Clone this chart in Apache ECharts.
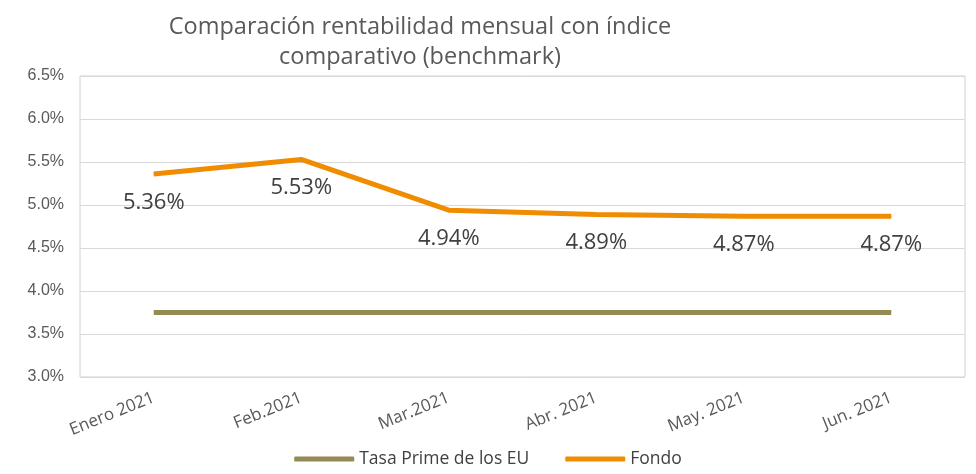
<!DOCTYPE html>
<html>
<head>
<meta charset="utf-8">
<script src="https://cdn.jsdelivr.net/npm/echarts@6/dist/echarts.min.js"></script>
<style>
  html, body { margin: 0; padding: 0; background: #fff; }
  #main { width: 976px; height: 474px; }
</style>
</head>
<body>
<div id="main"></div>
<script>
// datos
var categorias = ['Enero 2021', 'Feb.2021', 'Mar.2021', 'Abr. 2021', 'May. 2021', 'Jun. 2021'];
var tasaPrime = [3.75, 3.75, 3.75, 3.75, 3.75, 3.75];
var fondo = [5.36, 5.53, 4.94, 4.89, 4.87, 4.87];

var myChart = echarts.init(document.getElementById('main'));

myChart.setOption({
    animation: false,
    textStyle: { fontFamily: '"Open Sans", sans-serif' },
    title: {
        text: 'Comparación rentabilidad mensual con índice\ncomparativo (benchmark)',
        left: 415,
        top: 7,
        textAlign: 'center',
        textStyle: {
            color: '#595959',
            fontSize: 23.5,
            fontWeight: 'normal',
            lineHeight: 30,
            fontFamily: '"Open Sans", sans-serif'
        }
    },
    legend: {
        data: ['Tasa Prime de los EU', 'Fondo'],
        bottom: 1,
        left: 'center',
        itemWidth: 60,
        itemHeight: 5,
        itemGap: 36,
        icon: 'roundRect',
        textStyle: { color: '#404040', fontSize: 17.5, fontFamily: '"Open Sans", sans-serif' }
    },
    grid: {
        left: 80,
        right: 11,
        top: 76,
        bottom: 97,
        show: true,
        borderColor: '#d0d0d0',
        borderWidth: 1
    },
    xAxis: {
        type: 'category',
        boundaryGap: true,
        data: categorias,
        axisLine: { show: false },
        axisTick: { show: false },
        axisLabel: {
            rotate: 22,
            color: '#595959',
            fontSize: 17,
            margin: 20,
            interval: 0,
            fontFamily: '"Open Sans", sans-serif'
        }
    },
    yAxis: {
        type: 'value',
        min: 3.0,
        max: 6.5,
        interval: 0.5,
        axisLine: { show: false },
        axisTick: { show: false },
        splitLine: { lineStyle: { color: '#d9d9d9', width: 1 } },
        axisLabel: {
            color: '#595959',
            fontSize: 16,
            margin: 16,
            fontFamily: 'Arial, "Liberation Sans", sans-serif',
            formatter: function (v) { return v.toFixed(1) + '%'; }
        }
    },
    series: [
        {
            name: 'Tasa Prime de los EU',
            type: 'line',
            data: tasaPrime,
            symbol: 'none',
            lineStyle: { color: '#948a54', width: 5 },
            itemStyle: { color: '#948a54' }
        },
        {
            name: 'Fondo',
            type: 'line',
            data: fondo,
            symbol: 'circle',
            symbolSize: 1,
            showSymbol: true,
            lineStyle: { color: '#f08c00', width: 5 },
            itemStyle: { color: '#f08c00' },
            label: {
                show: true,
                position: 'bottom',
                distance: 17,
                color: '#404040',
                fontSize: 22,
                fontFamily: '"Open Sans", sans-serif',
                formatter: function (p) { return p.value.toFixed(2) + '%'; }
            }
        }
    ]
});
</script>
</body>
</html>
